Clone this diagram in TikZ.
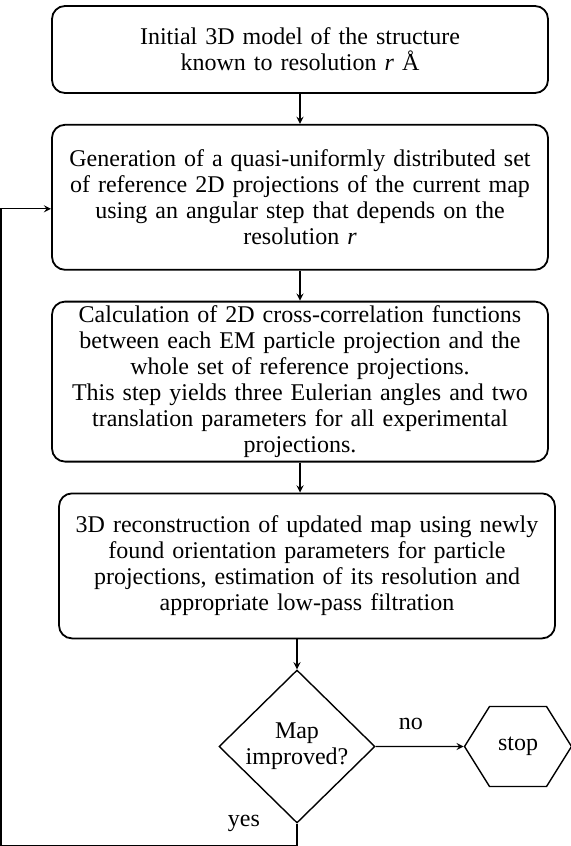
\documentclass[tikz,border=0pt]{standalone}
\usepackage{fontspec}
\setmainfont{Liberation Serif}
\usepackage{tikz}
\usetikzlibrary{positioning,shapes.geometric,shapes.symbols}

\begin{document}
\begin{tikzpicture}[
    node distance=15pt,
    block/.style={rectangle, draw=black, text width=244pt, inner xsep=2pt, inner ysep=0pt, align=center, font=\fontsize{12}{13}\selectfont, rounded corners=6.5pt, line width=0.9pt},
    decision/.style={diamond, draw=black, aspect=1, inner sep=0pt, minimum width=78pt, minimum height=76.5pt, align=center, font=\fontsize{12}{13}\selectfont, line width=0.7pt},
    hexa/.style={signal, signal to=east and west, signal pointer angle=116, draw=black, inner sep=0pt, minimum width=53.5pt, minimum height=40pt, font=\fontsize{12}{13}\selectfont, line width=0.7pt},
    arrow/.style={->, >=stealth, line width=0.6pt},
    label/.style={font=\fontsize{12}{13}\selectfont}
]
\useasboundingbox (0,0) rectangle (285pt,-423pt);

% Nodes
\node[block, minimum height=43.5pt] (init) at (150pt,-24.75pt) {Initial 3D model of the structure\\known to resolution \textit{r} Å};

\node[block, minimum height=72.5pt, below=of init] (gen) {Generation of a quasi-uniformly distributed set\\of reference 2D projections of the current map\\using an angular step that depends on the\\resolution \textit{r}};

\node[block, minimum height=80pt, below=of gen] (corr) {Calculation of 2D cross-correlation functions\\between each EM particle projection and the\\whole set of reference projections.\\This step yields three Eulerian angles and two\\translation parameters for all experimental\\projections.};

\node[block, minimum height=72.5pt, below=of corr, xshift=3.5pt] (recon) {3D reconstruction of updated map using newly\\found orientation parameters for particle\\projections, estimation of its resolution and\\appropriate low-pass filtration};

\node[decision, below=of recon, xshift=-5pt] (dec) {Map\\improved?};

\node[hexa, right=44pt of dec] (stop) {stop};

% Arrows
\draw[arrow] (init) -- (gen);
\draw[arrow] (gen) -- (corr);
\draw[arrow] (corr.south) -- (corr.south |- recon.north);
\draw[arrow] (recon.south -| dec.north) -- (dec.north);
\draw[arrow] (dec) -- node[label, above=5pt, pos=0.4] {no} (stop);

% Loop-back arrow
\draw[arrow] (dec.south) -- ++(0,-11pt) -| ([xshift=-25pt,yshift=-5.75pt]gen.west) -- ([yshift=-5.75pt]gen.west);

% Loop label
\node[label, anchor=east] at ([xshift=-15pt]dec.south) {yes};

\end{tikzpicture}
\end{document}
